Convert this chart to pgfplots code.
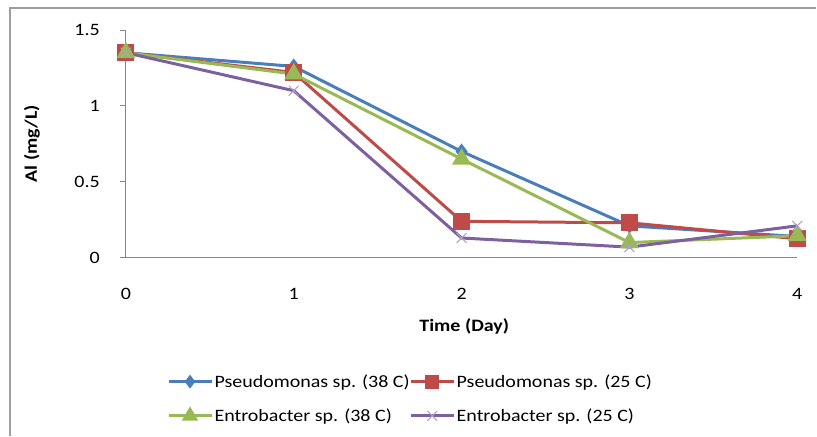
\documentclass[border=0pt]{standalone}
\usepackage{fontspec}
\setmainfont{Carlito}[FakeStretch=1.15]
\usepackage{pgfplots}
\pgfplotsset{compat=1.18}
\definecolor{sblue}{HTML}{4A7EBB}
\definecolor{sred}{HTML}{BE4B48}
\definecolor{sgreen}{HTML}{98B954}
\definecolor{spurple}{HTML}{7D60A0}
\definecolor{axgray}{HTML}{868686}
\begin{document}
\begin{tikzpicture}[x=1bp,y=1bp,font=\fontsize{17.4bp}{20bp}\selectfont]
\path (0,0) rectangle (817,436);
\draw[axgray!80, line width=1.5bp] (10,0) -- (10,428) -- (817,428);
\begin{axis}[
  at={(126bp,178bp)}, anchor=south west,
  scale only axis, width=672bp, height=228bp,
  xmin=0, xmax=4, ymin=0, ymax=1.5,
  axis x line=bottom, axis y line=left,
  axis line style={-, axgray, line width=0.8bp},
  xtick={0,1,2,3,4}, ytick={0,0.5,1,1.5},
  x tick style={draw=none},
  y tick style={axgray, line width=0.8bp},
  tick align=outside, major tick length=6bp,
  /pgf/number format/assume math mode=true,
  xticklabel style={anchor=center, yshift=-30bp},
  yticklabel style={anchor=east, inner sep=0pt, xshift=-20bp},
  xlabel={\bfseries Time (Day)},
  ylabel={\bfseries Al (mg/L)},
  xlabel style={at={(rel axis cs:0.504,-0.303)}, anchor=center},
  ylabel style={at={(rel axis cs:-0.140,0.5)}, anchor=center, rotate=0},
  clip=false,
  legend columns=2,
  legend cell align=left,
  legend style={draw=none, fill=none, at={(rel axis cs:0.061,-0.512)}, anchor=north west,
    row sep=20bp, inner sep=0pt,
    nodes={inner xsep=1.5bp, inner ysep=0pt},
    /tikz/every even column/.append style={column sep=-2bp}},
  legend image code/.code={\draw[mark repeat=2,mark phase=2,#1] plot coordinates {(0bp,0bp) (21.5bp,0bp) (43bp,0bp)};},
]
\addplot[forget plot, sblue, line width=3bp, mark=diamond*, mark size=5.5bp, mark options={solid}]
  coordinates {(0,1.35) (1,1.26) (2,0.70) (3,0.21) (4,0.14)};
\addplot[forget plot, sred, line width=3bp, mark=square*, mark size=7bp]
  coordinates {(0,1.35) (1,1.22) (2,0.24) (3,0.23) (4,0.125)};
\addplot[forget plot, sgreen, line width=3bp, mark=triangle*, mark size=8bp]
  coordinates {(0,1.35) (1,1.21) (2,0.65) (3,0.10) (4,0.145)};
\addplot[forget plot, spurple, line width=3bp, mark=x, mark size=7bp, mark options={line width=1bp, draw=spurple!60}]
  coordinates {(0,1.35) (1,1.10) (2,0.13) (3,0.07) (4,0.21)};
\addlegendimage{sblue, line width=3bp, mark=diamond*, mark size=4.5bp}
\addlegendentry{Pseudomonas sp. (38 C)}
\addlegendimage{sred, line width=3bp, mark=square*, mark size=5.5bp}
\addlegendentry{Pseudomonas sp. (25 C)}
\addlegendimage{sgreen, line width=3bp, mark=triangle*, mark size=6.5bp}
\addlegendentry{Entrobacter sp. (38 C)}
\addlegendimage{spurple, line width=3bp, mark=x, mark size=7bp, mark options={line width=1bp, draw=spurple!60}}
\addlegendentry{Entrobacter sp. (25 C)}
\end{axis}
\end{tikzpicture}
\end{document}
